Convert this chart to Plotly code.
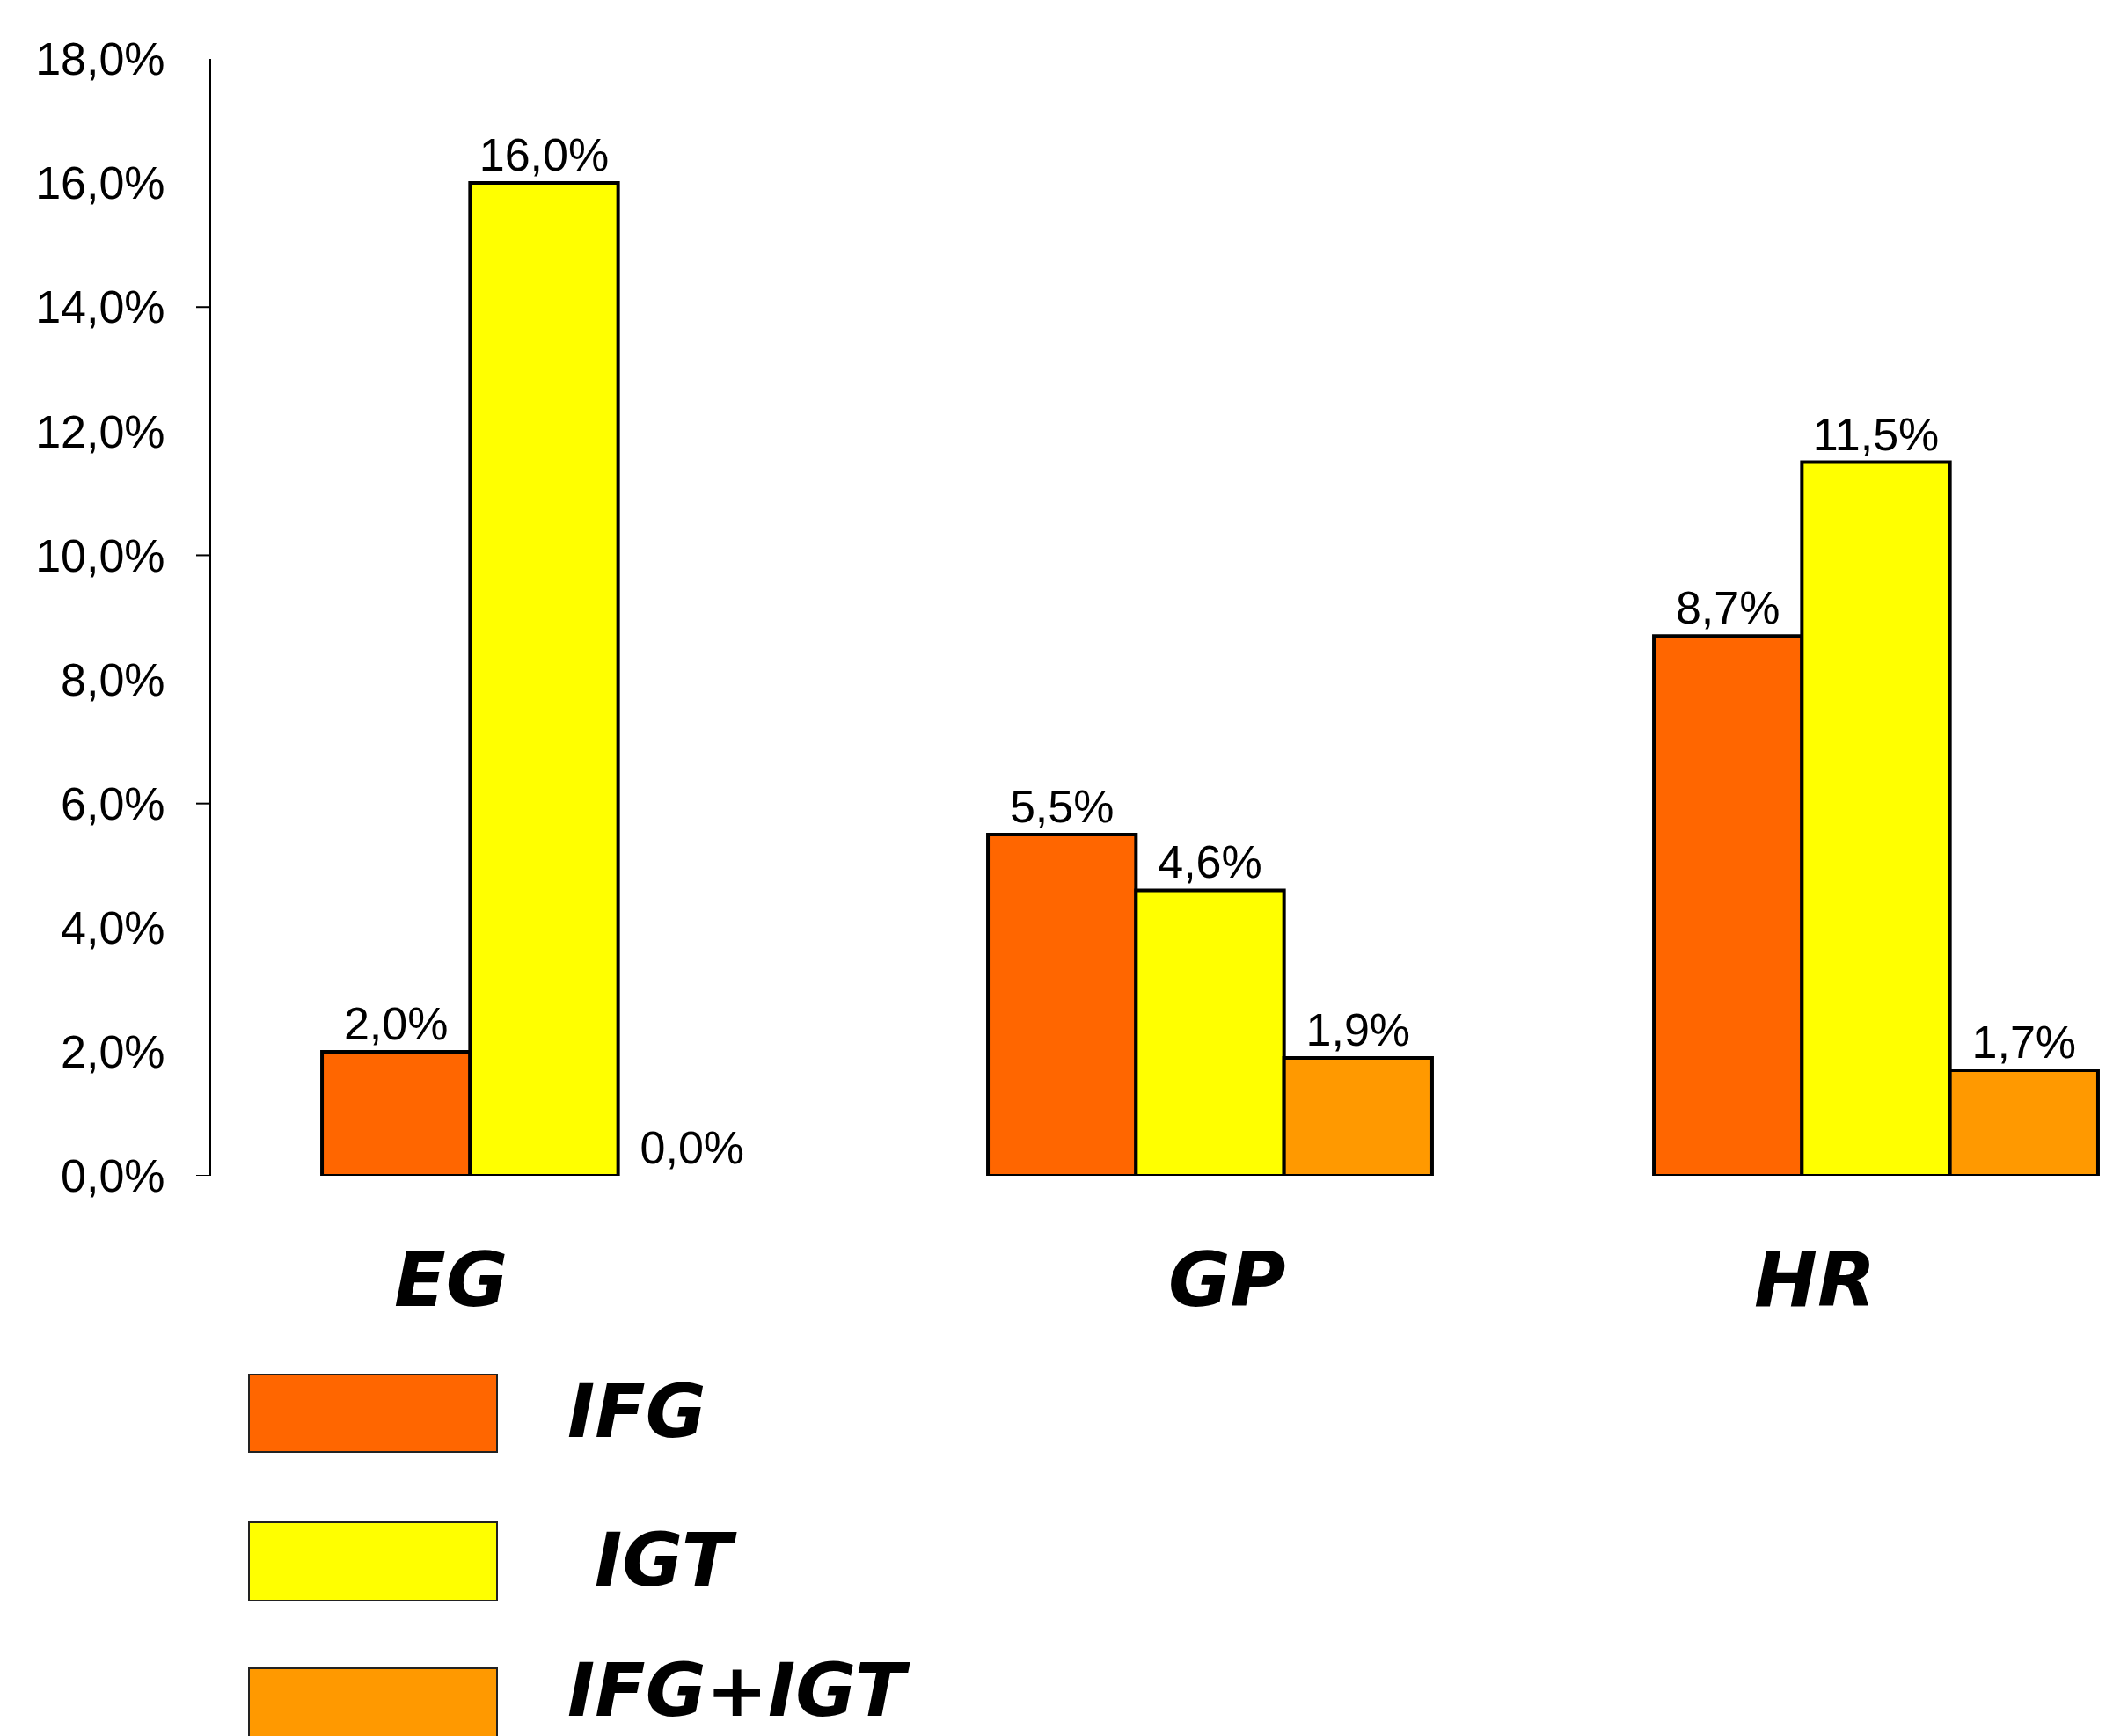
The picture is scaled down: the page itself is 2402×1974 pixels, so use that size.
import plotly.graph_objects as go

# ---- data ----
categories = ["EG", "GP", "HR"]
series_names = ["IFG", "IGT", "IFG+IGT"]
ifg = [2.0, 5.5, 8.7]
igt = [16.0, 4.6, 11.5]
ifg_igt = [0.0, 1.9, 1.7]
series_values = [ifg, igt, ifg_igt]
series_colors = ["#FF6600", "#FFFF00", "#FF9900"]
ytick_values = [0, 2, 4, 6, 8, 10, 12, 14, 16, 18]
ytick_labels = [f"{v:.1f}%".replace(".", ",") for v in ytick_values]
ytick_marks = [0, 6, 10, 14]

# ---- layout geometry (pixels) ----
W, H = 2402, 1974
L, R, T, B = 240, 0, 67, 637
PW, PH = W - L - R, H - T - B

def px_x(px):
    return (px - L) / PW

def px_y(py):
    return (H - B - py) / PH

NUM_FONT = "Arial, 'Liberation Sans', sans-serif"
CAT_FONT = "'Comic Sans MS', 'DejaVu Sans', sans-serif"

fig = go.Figure()
for name, vals, col in zip(series_names, series_values, series_colors):
    fig.add_trace(go.Bar(
        x=categories, y=vals, name=name,
        marker=dict(color=col,
                    line=dict(color="black", width=[0 if v == 0 else 4 for v in vals])),
        texttemplate="%{y:.1f}%", textposition="outside",
        outsidetextfont=dict(family=NUM_FONT, size=52, color="black"),
        cliponaxis=False, showlegend=False,
    ))

# category labels (placed as in the reference)
cat_shift = {"EG": -106, "GP": 19, "HR": -70}
annotations = []
for c in categories:
    annotations.append(dict(
        x=c, xref="x", y=px_y(1455), yref="paper", xshift=cat_shift[c],
        text=f"<b><i>{c}</i></b>", showarrow=False,
        font=dict(family=CAT_FONT, size=86, color="black"),
        xanchor="center", yanchor="middle",
    ))

# y-axis tick marks (only where the reference shows them)
shapes = []
for v in ytick_marks:
    shapes.append(dict(type="line", xref="paper", yref="y",
                       x0=-17 / PW, x1=0, y0=v, y1=v,
                       line=dict(color="black", width=2)))

# manual legend
leg_boxes = [(1563, 1651), (1731, 1820), (1897, 1985)]
leg_text = [(643, 1605), (674, 1774), (643, 1922)]
for name, col, (y0, y1), (tx, ty) in zip(series_names, series_colors, leg_boxes, leg_text):
    shapes.append(dict(
        type="rect", xref="paper", yref="paper",
        x0=px_x(283), x1=px_x(565), y0=px_y(y0), y1=px_y(y1),
        fillcolor=col, line=dict(color="#222222", width=2),
    ))
    annotations.append(dict(
        x=px_x(tx), y=px_y(ty), xref="paper", yref="paper",
        text=f"<b><i>{name}</i></b>", showarrow=False,
        font=dict(family=CAT_FONT, size=84, color="black"),
        xanchor="left", yanchor="middle",
    ))

fig.update_layout(
    width=W, height=H, autosize=False,
    margin=dict(l=L, r=R, t=T, b=B, pad=0),
    paper_bgcolor="white", plot_bgcolor="white",
    barmode="group", bargap=0.333, bargroupgap=0,
    separators=",.",
    showlegend=False,
    shapes=shapes, annotations=annotations,
    xaxis=dict(range=[-0.5, 2.356], showticklabels=False, showline=False,
               showgrid=False, zeroline=False, ticks=""),
    yaxis=dict(range=[0, 18], tickmode="array", tickvals=ytick_values, ticktext=ytick_labels,
               showgrid=False, zeroline=False, showline=True, linecolor="black", linewidth=2,
               ticks="", ticklabelstandoff=40,
               tickfont=dict(family=NUM_FONT, size=52, color="black")),
)

fig.write_html("out.html")
